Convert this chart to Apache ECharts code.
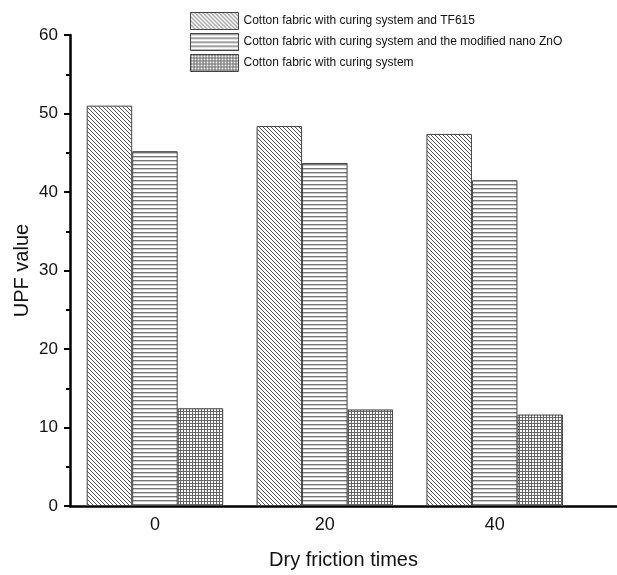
<!DOCTYPE html>
<html>
<head>
<meta charset="utf-8">
<script src="https://cdn.jsdelivr.net/npm/echarts@6/dist/echarts.min.js"></script>
<style>html,body{margin:0;padding:0;background:#fff}#c{width:617px;height:575px}</style>
</head>
<body>
<div id="c"></div>
<script>
var categories = [0, 20, 40];
var seriesNames = [
  'Cotton fabric with curing system and TF615',
  'Cotton fabric with curing system and the modified nano ZnO',
  'Cotton fabric with curing system'
];
var tf615 = [51.0, 48.4, 47.4];
var nanoZnO = [45.2, 43.7, 41.5];
var curing = [12.45, 12.3, 11.65];
var yTicks = [0, 10, 20, 30, 40, 50, 60];

function makePattern(type) {
  var c = document.createElement('canvas');
  var s = type === 'grid' ? 3 : 4;
  c.width = s; c.height = s;
  var g = c.getContext('2d');
  g.fillStyle = '#fff';
  g.fillRect(0, 0, s, s);
  g.strokeStyle = '#555';
  g.lineWidth = 1;
  if (type === 'diag') {
    g.beginPath();
    g.moveTo(-1, -1); g.lineTo(s + 1, s + 1);
    g.moveTo(-1, s - 1); g.lineTo(1, s + 1);
    g.moveTo(s - 1, -1); g.lineTo(s + 1, 1);
    g.stroke();
  } else if (type === 'horiz') {
    g.fillStyle = '#777';
    g.fillRect(0, 0, s, 1.4);
  } else {
    g.fillStyle = '#666';
    g.fillRect(0, 0, s, 1);
    g.fillRect(0, 0, 1, s);
  }
  return { image: c, repeat: 'repeat' };
}

var patterns = [makePattern('diag'), makePattern('horiz'), makePattern('grid')];
var values = [tf615, nanoZnO, curing];

var chart = echarts.init(document.getElementById('c'), null, { renderer: 'canvas' });
var font = 'Liberation Sans, Arial, sans-serif';
chart.setOption({
  animation: false,
  backgroundColor: '#fff',
  grid: { left: 70, right: 0, top: 35, bottom: 68 },
  legend: {
    orient: 'vertical',
    left: 190, top: 12, padding: 0,
    itemWidth: 48, itemHeight: 17, itemGap: 3,
    icon: 'rect',
    itemStyle: { borderWidth: 1, borderColor: '#444' },
    textStyle: { fontFamily: font, fontSize: 12, color: '#111', padding: [0, 0, 0, 0] },
    data: seriesNames
  },
  xAxis: {
    type: 'value',
    min: -10, max: 54.4, interval: 10,
    name: 'Dry friction times',
    nameLocation: 'middle', nameGap: 44,
    nameMoveOverlap: false,
    nameTextStyle: { fontFamily: font, fontSize: 20, color: '#111' },
    axisLine: { onZero: false, lineStyle: { color: '#000', width: 2.5 } },
    axisTick: { show: false },
    splitLine: { show: false },
    axisLabel: {
      fontFamily: font, fontSize: 18, color: '#111', margin: 10,
      showMaxLabel: false,
      formatter: function (v) { return categories.indexOf(v) >= 0 ? String(v) : ''; }
    }
  },
  yAxis: {
    type: 'value',
    min: 0, max: 60, interval: 10,
    name: 'UPF value',
    nameLocation: 'middle', nameGap: 38,
    nameMoveOverlap: false,
    nameTextStyle: { fontFamily: font, fontSize: 20, color: '#111' },
    axisLine: { show: true, onZero: false, lineStyle: { color: '#000', width: 2.5 } },
    axisTick: { show: true, inside: false, length: 6, lineStyle: { color: '#000', width: 2 } },
    minorTick: { show: true, splitNumber: 2, length: 4, lineStyle: { color: '#000', width: 2 } },
    splitLine: { show: false },
    axisLabel: {
      fontFamily: font, fontSize: 17, color: '#111', margin: 12,
      formatter: function (v) { return yTicks.indexOf(v) >= 0 ? String(v) : ''; }
    }
  },
  series: seriesNames.map(function (n, i) {
    return {
      name: n,
      type: 'bar',
      barWidth: 45.5,
      barGap: '0%',
      data: categories.map(function (c, j) { return [c, values[i][j]]; }),
      itemStyle: { color: patterns[i], borderColor: '#444', borderWidth: 1 }
    };
  })
});
</script>
</body>
</html>
